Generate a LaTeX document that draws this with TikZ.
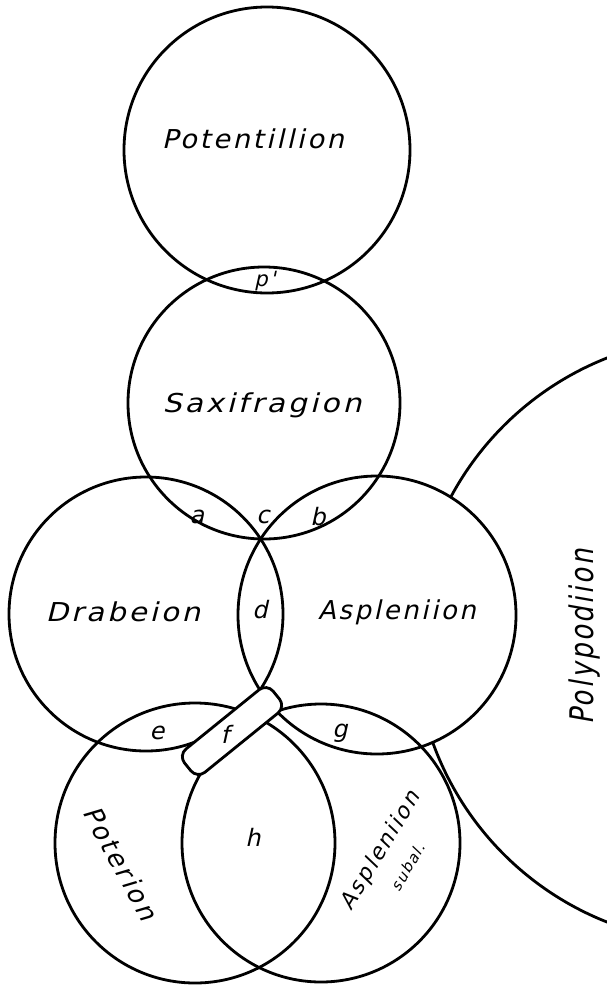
\documentclass[tikz,border=0pt]{standalone}
\usepackage{fontspec}
\newfontfamily\handfont[LetterSpace=10, FakeSlant=0.22]{DejaVu Sans}
\usetikzlibrary{positioning}
\tikzset{
	zone/.style={circle, draw=black, line width=2.8pt, inner sep=0pt},
	zoneblank/.style={circle, fill=white, inner sep=0pt},
	zonename/.style={font=\fontsize{26}{26}\selectfont\handfont, inner sep=0pt},
	regionlbl/.style={font=\fontsize{24}{24}\selectfont\handfont, inner sep=0pt}
}

\begin{document}
\begin{tikzpicture}[x=1pt, y=-1pt]
	\useasboundingbox (0,0) rectangle (607,988);
	% Polypodiion, mostly off the page
	\begin{scope}
		\clip (0,0) rectangle (607,988);
		\node[zone, minimum size=606pt] (poly) at (718,640) {};
	\end{scope}
	\node[zoneblank, minimum size=278pt] (aspfill) at (377,615) {};
	\node[zoneblank, minimum size=278pt] (aspsubfill) at (321,843) {};
	% the six circles
	\node[zone, minimum size=286pt] (pot) at (267,150) {};
	\node[zone, minimum size=272pt] (sax) at (264,403) {};
	\node[zone, minimum size=274pt] (dra) at (146,614) {};
	\node[zone, minimum size=278pt] (asp) at (377,615) {};
	\node[zone, minimum size=280pt] (pote) at (195,843) {};
	\node[zone, minimum size=278pt] (aspsub) at (321,843) {};
	% f, where the lower circles meet
	\node[draw, fill=white, line width=2.8pt, rounded corners=10pt,
		minimum width=114pt, minimum height=30pt, rotate=39] (fzone) at (232,731) {};
	% names
	\node[zonename, xscale=1.05] (potname) at (253,139) {Potentillion};
	\node[zonename, xscale=1.15] (saxname) at (262,405) {Saxifragion};
	\node[zonename, xscale=1.13] (draname) at (123,612) {Drabeion};
	\node[zonename] (aspname) at (397,612) {Aspleniion};
	\node[zonename, xscale=1.25, rotate=90] (polyname) at (585,637) {Polypodiion};
	\node[zonename, rotate=-61] (potename) at (121,863) {Poterion};
	\node[zonename, font=\fontsize{22}{22}\selectfont\handfont, rotate=59] (aspsubname) at (381,851) {Aspleniion};
	\node[zonename, font=\fontsize{15}{15}\selectfont\handfont, rotate=59] (subal) at (408,867) {subal.};
	% overlaps
	\node[regionlbl, font=\fontsize{21}{21}\selectfont\handfont] (pp) at (265,281) {p'};
	\node[regionlbl] (a) at (197,517) {a};
	\node[regionlbl] (c) at (263,517) {c};
	\node[regionlbl] (b) at (318,517) {b};
	\node[regionlbl] (d) at (260,610) {d};
	\node[regionlbl] (e) at (157,733) {e};
	\node[regionlbl] (f) at (225,734) {f};
	\node[regionlbl] (g) at (340,733) {g};
	\node[regionlbl] (h) at (253,837) {h};
\end{tikzpicture}
\end{document}
